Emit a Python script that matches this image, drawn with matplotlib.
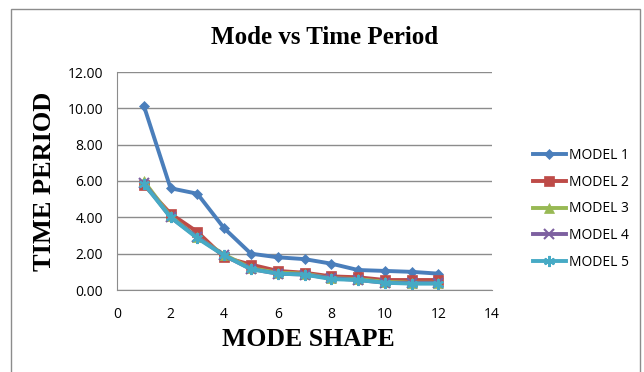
import matplotlib
matplotlib.use("Agg")
import matplotlib.pyplot as plt
from matplotlib.patches import Rectangle

modes = [1, 2, 3, 4, 5, 6, 7, 8, 9, 10, 11, 12]
model1 = [10.15, 5.6, 5.3, 3.4, 2.0, 1.8, 1.7, 1.45, 1.1, 1.05, 1.0, 0.9]
model2 = [5.8, 4.2, 3.2, 1.8, 1.4, 1.05, 0.95, 0.75, 0.7, 0.55, 0.55, 0.55]
model3 = [6.0, 4.05, 2.9, 1.95, 1.2, 0.95, 0.9, 0.65, 0.6, 0.45, 0.4, 0.4]
model4 = [5.9, 4.0, 2.9, 1.9, 1.15, 0.9, 0.85, 0.65, 0.55, 0.4, 0.38, 0.38]
model5 = [5.85, 4.0, 2.85, 1.9, 1.15, 0.9, 0.85, 0.6, 0.55, 0.4, 0.35, 0.35]
labels = ["MODEL 1", "MODEL 2", "MODEL 3", "MODEL 4", "MODEL 5"]
colors = ["#4a7ebb", "#be4b48", "#98b954", "#7d60a0", "#46aac5"]
markers = ["D", "s", "^", "x", (6, 2, 0)]
msizes = [5, 7, 7, 7, 8]

fig = plt.figure(figsize=(6.44, 3.72), dpi=100)
fig.patches.append(Rectangle((11/644, -0.01), (640-11)/644, (372-9)/372 + 0.01,
                             transform=fig.transFigure, fill=False,
                             edgecolor="#8c8c8c", linewidth=1.0))
ax = fig.add_axes([117/644, (372-290)/372, (492-117)/644, (290-72)/372])

series = [model1, model2, model3, model4, model5]
for s, lab, c, m, ms in zip(series, labels, colors, markers, msizes):
    ax.plot(modes, s, color=c, marker=m, markersize=ms, linewidth=2.8,
            markeredgewidth=1.5 if m in ("x", (6, 2, 0)) else 0.5,
            markeredgecolor=c, label=lab)

ax.set_xlim(0, 14)
ax.set_ylim(0, 12)
ax.set_xticks(range(0, 15, 2))
ax.set_yticks([0, 2, 4, 6, 8, 10, 12])
ax.set_yticklabels([f"{v:.2f}" for v in [0, 2, 4, 6, 8, 10, 12]])
ax.tick_params(axis="y", length=0, labelsize=10, pad=10)
ax.tick_params(axis="x", length=0, labelsize=10, pad=12)
for lbl in ax.get_xticklabels() + ax.get_yticklabels():
    lbl.set_family("Open Sans")
ax.yaxis.grid(True, color="#8c8c8c", linewidth=1.0)
ax.set_axisbelow(True)
for sp in ["top", "right"]:
    ax.spines[sp].set_visible(False)
for sp in ["left", "bottom"]:
    ax.spines[sp].set_color("#8c8c8c")

fig.text(325/644, 1 - 38/372, "Mode vs Time Period", ha="center", va="center",
         fontsize=18, fontweight="bold", family="Liberation Serif")
fig.text(45/644, 1 - 181/372, "TIME PERIOD", ha="center", va="center", rotation=90,
         fontsize=19, fontweight="bold", family="Liberation Serif")
fig.text(308/644, 1 - 340/372, "MODE SHAPE", ha="center", va="center",
         fontsize=18.5, fontweight="bold", family="Liberation Serif")

leg = fig.legend(loc="center left", bbox_to_anchor=(520/644, 1 - 209/372), frameon=False,
                 prop={"family": "Open Sans", "size": 10}, handlelength=2.4,
                 labelspacing=0.85, handletextpad=0.2)

fig.savefig("out.png", dpi=100)
